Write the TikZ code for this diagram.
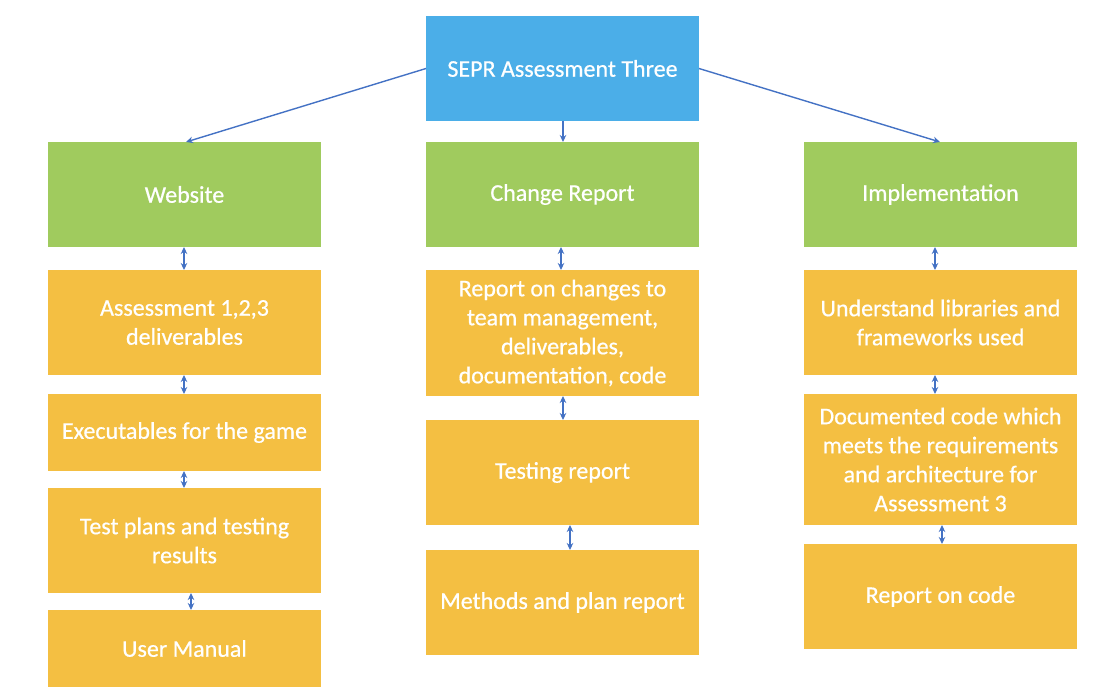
\documentclass[tikz,border=0pt]{standalone}
\usepackage{fontspec}
\setmainfont{Carlito}
\newfontfamily\boxfont{Carlito}[FakeBold=0.6]
\usetikzlibrary{arrows.meta}
\definecolor{topblue}{HTML}{4BAEE8}
\definecolor{boxgreen}{HTML}{A0CB5E}
\definecolor{boxorange}{HTML}{F4BF42}
\definecolor{linkblue}{HTML}{4472C4}
\begin{document}
\begin{tikzpicture}[x=1pt,y=-1pt,
  box/.style={anchor=north west,inner sep=0pt,outer sep=0pt,text=white,align=center,
    font=\boxfont\fontsize{24}{29}\selectfont},
  topbox/.style={box,fill=topblue},
  headbox/.style={box,fill=boxgreen},
  itembox/.style={box,fill=boxorange},
  tip/.style={Stealth[length=7pt,width=6.5pt]},
  link/.style={draw=linkblue,line width=1.4pt,-{Stealth[length=7pt,width=6.5pt]}},
  twoway/.style={draw=linkblue,line width=1.5pt,{Stealth[length=7pt,width=6.5pt]}-{Stealth[length=7pt,width=6.5pt]}}]
\useasboundingbox (0,0) rectangle (1120,700);

% top of the hierarchy
\node[topbox,minimum width=273pt,minimum height=105pt] (top) at (426,16) {SEPR Assessment Three};

% second level
\node[headbox,minimum width=273pt,minimum height=105pt] (web) at (48,142) {Website};
\node[headbox,minimum width=273pt,minimum height=105pt] (chg) at (426,142) {Change Report};
\node[headbox,minimum width=273pt,minimum height=105pt] (impl) at (804,142) {Implementation};

% website items
\node[itembox,minimum width=273pt,minimum height=105pt] (w1) at (48,270) {Assessment 1,2,3\\deliverables};
\node[itembox,minimum width=273pt,minimum height=77pt] (w2) at (48,394) {Executables for the game};
\node[itembox,minimum width=273pt,minimum height=105pt] (w3) at (48,488) {Test plans and testing\\results};
\node[itembox,minimum width=273pt,minimum height=77pt] (w4) at (48,610) {User Manual};

% change report items
\node[itembox,minimum width=273pt,minimum height=126pt] (c1) at (426,270) {Report on changes to\\team management,\\deliverables,\\documentation, code};
\node[itembox,minimum width=273pt,minimum height=105pt] (c2) at (426,420) {Testing report};
\node[itembox,minimum width=273pt,minimum height=105pt] (c3) at (426,550) {Methods and plan report};

% implementation items
\node[itembox,minimum width=273pt,minimum height=105pt] (i1) at (804,270) {Understand libraries and\\frameworks used};
\node[itembox,minimum width=273pt,minimum height=131pt] (i2) at (804,394) {Documented code which\\meets the requirements\\and architecture for\\Assessment 3};
\node[itembox,minimum width=273pt,minimum height=105pt] (i3) at (804,544) {Report on code};

% links from the top box
\draw[link] (top.west) -- (web.north -| 186,0);
\draw[link] (top.east) -- (impl.north -| 940,0);
\draw[link] (top.south -| 563,0) -- (chg.north -| 563,0);

% two-way links down each column
\draw[twoway] (web.south -| 184,0) -- (w1.north -| 184,0);
\draw[twoway] (w1.south -| 184,0) -- (w2.north -| 184,0);
\draw[twoway] (w2.south -| 184,0) -- (w3.north -| 184,0);
\draw[twoway] (w3.south -| 191,0) -- (w4.north -| 191,0);

\draw[twoway] (chg.south -| 561,0) -- (c1.north -| 561,0);
\draw[twoway] (c1.south -| 563,0) -- (c2.north -| 563,0);
\draw[twoway] (c2.south -| 570,0) -- (c3.north -| 570,0);

\draw[twoway] (impl.south -| 935,0) -- (i1.north -| 935,0);
\draw[twoway] (i1.south -| 935,0) -- (i2.north -| 935,0);
\draw[twoway] (i2.south -| 942,0) -- (i3.north -| 942,0);
\end{tikzpicture}
\end{document}
